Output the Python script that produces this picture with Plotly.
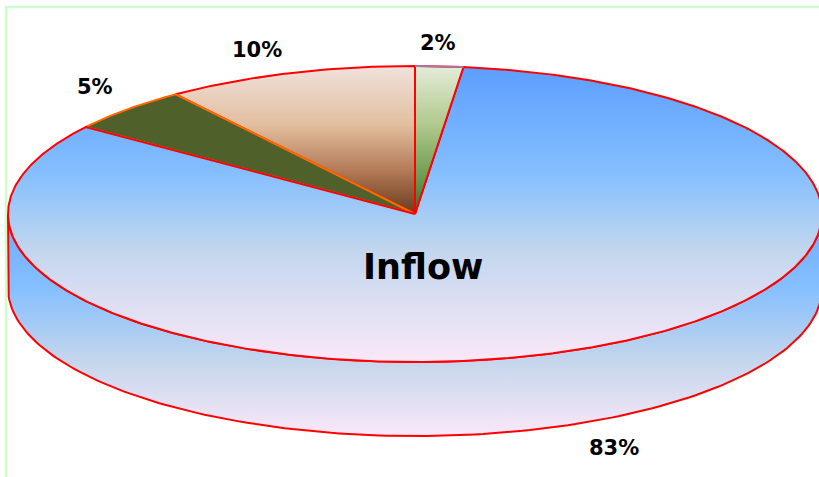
import numpy as np
import plotly.graph_objects as go

# Data, clockwise from twelve o'clock (shares estimated from the slice edges)
categories = ["Slice A", "Slice B", "Slice C", "Slice D"]
shares = [1.9, 83.1, 5, 10]
share_labels = ["2%", "83%", "5%", "10%"]
chart_title = "Inflow"

W, H = 819, 477
CX, CY, RX, RY, DEPTH = 415, 214, 407, 148, 74


def arc(start, stop, dy=0, n=160):
    a = np.radians(np.linspace(start, stop, n))
    return CX + RX * np.sin(a), CY + dy - RY * np.cos(a)


def grad(stops):
    # the y axis runs downward, so the gradient's 0 sits at the bottom of the shape
    return dict(type="vertical", colorscale=[[1 - p, c] for p, c in reversed(stops)])


BLUE = [[0, "#5C9EFF"], [0.36, "#85BFFF"], [0.62, "#C2D6EE"], [1, "#FAE8F8"]]
SIDE = [[0, "#6AABFF"], [0.33, "#85BFFF"], [0.66, "#C4D6EC"], [1, "#FAE8F8"]]
BROWN = [[0, "#F0E2DC"], [0.4, "#E2BE9E"], [0.7, "#B47C58"], [1, "#6A3A1E"]]
GREEN = [[0, "#E4ECD8"], [0.4, "#B0C88C"], [0.75, "#6C9C50"], [1, "#2F6F28"]]
OLIVE = [[0, "#50602A"], [1, "#50602A"]]
RED, ORANGE = "#FF0000", "#FF6A00"

# cumulative angles of each slice
total = sum(shares)
edges = np.concatenate([[0], np.cumsum(shares)]) * 360 / total
angle = {c: (edges[i], edges[i + 1]) for i, c in enumerate(categories)}

styles = {
    "Slice D": (BROWN, RED),
    "Slice C": (OLIVE, ORANGE),
    "Slice B": (BLUE, RED),
    "Slice A": (GREEN, RED),
}

fig = go.Figure()

# side wall: front half of the disc
tx, ty = arc(90, 270)
bx, by = arc(270, 90, DEPTH)
fig.add_trace(go.Scatter(
    x=np.concatenate([tx, bx, tx[:1]]), y=np.concatenate([ty, by, ty[:1]]),
    mode="lines", fill="toself", fillgradient=grad(SIDE),
    line=dict(color=RED, width=2), hoverinfo="skip", showlegend=False))

# top faces
for name, (stops, colour) in styles.items():
    a0, a1 = angle[name]
    x, y = arc(a0, a1, n=max(8, int((a1 - a0) * 2)))
    fig.add_trace(go.Scatter(
        x=np.concatenate([[CX], x, [CX]]), y=np.concatenate([[CY], y, [CY]]),
        mode="lines", fill="toself", fillgradient=grad(stops),
        line=dict(color=colour, width=2), hoverinfo="skip", showlegend=False))

# rim of the smallest slice
x, y = arc(*angle["Slice A"], n=16)
fig.add_trace(go.Scatter(x=x, y=y, mode="lines", line=dict(color="#A87CA0", width=2),
                         hoverinfo="skip", showlegend=False))

font = dict(family="DejaVu Sans", color="#000000")
for text, px, py in zip(share_labels, [438, 614, 95, 257], [43, 448, 87, 50]):
    fig.add_annotation(x=px, y=py, text=f"<b>{text}</b>", showarrow=False,
                       font=dict(size=21, **font))
fig.add_annotation(x=423, y=267, text=f"<b>{chart_title}</b>", showarrow=False,
                   font=dict(size=35, **font))

# chart frame
fig.add_shape(type="rect", x0=6, x1=W + 20, y0=7, y1=H + 20,
              line=dict(color="#CCFFCC", width=2.5), layer="below")

fig.update_layout(
    width=W, height=H, margin=dict(l=0, r=0, t=0, b=0),
    paper_bgcolor="white", plot_bgcolor="white", showlegend=False,
    xaxis=dict(range=[0, W], visible=False, fixedrange=True),
    yaxis=dict(range=[H, 0], visible=False, fixedrange=True),
)
fig.write_html(
    "out.html",
    config={"displayModeBar": False},
    post_script="document.body.style.margin='0';document.body.style.overflow='hidden';",
)
